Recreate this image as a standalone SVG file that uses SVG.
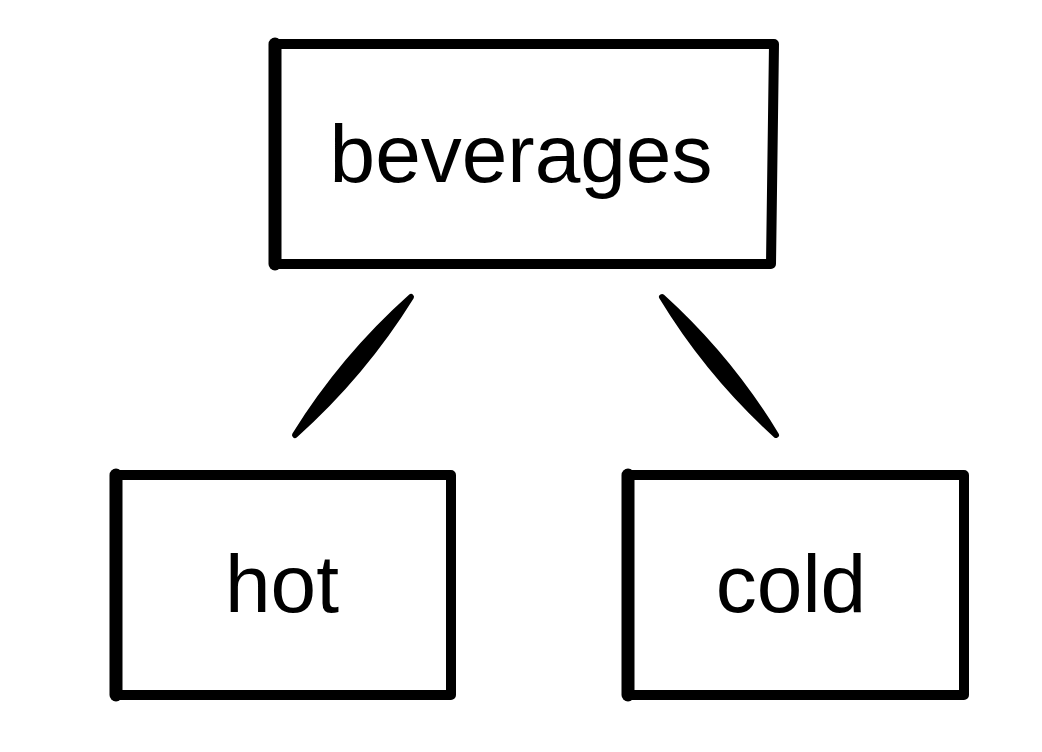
<svg xmlns="http://www.w3.org/2000/svg" width="1042" height="752" viewBox="0 0 1042 752">
<style>
.b{stroke:#000;fill:none;stroke-width:10;stroke-linejoin:round}
.l{stroke:#000;fill:none;stroke-width:13;stroke-linecap:round}
.lbl{font-family:"Liberation Sans",Arial,sans-serif;font-size:82px;fill:#000;text-anchor:middle}
.c{fill:#000;stroke:#000;stroke-width:6;stroke-linejoin:round}
</style>
<rect width="1042" height="752" fill="#fff"/>
<g id="connectors">
<path class="c" d="M411,297 Q362.9,374.4 295,435 Q343.1,357.6 411,297 Z"/>
<path class="c" d="M662,297 Q729,357.7 776,435 Q709,374.3 662,297 Z"/>
</g>
<g id="beverages">
<path class="b" d="M275,44 L774,44 L771,264 L275,264 Z"/>
<line class="l" x1="275" y1="44" x2="275" y2="264"/>
<text class="lbl" x="521" y="182">beverages</text>
</g>
<g id="hot">
<path class="b" d="M116,475 L451,475 L451,695 L116,695 Z"/>
<line class="l" x1="116" y1="475" x2="116" y2="695" stroke-width="12"/>
<text class="lbl" x="282" y="612">hot</text>
</g>
<g id="cold">
<path class="b" d="M628,475 L964,475 L964,695 L628,695 Z"/>
<line class="l" x1="628" y1="475" x2="628" y2="695" stroke-width="11"/>
<text class="lbl" x="791" y="612">cold</text>
</g>
</svg>
